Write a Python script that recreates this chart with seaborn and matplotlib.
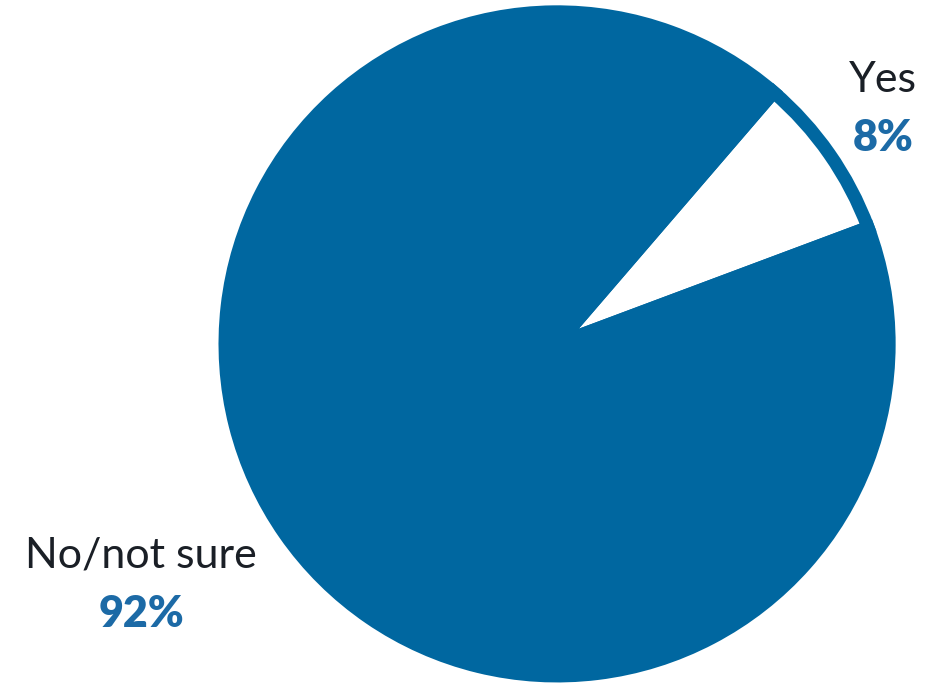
import matplotlib
matplotlib.use("Agg")
import matplotlib.pyplot as plt
import seaborn as sns

sns.set_theme(style="white")
plt.rcParams["font.family"] = ["Lato", "DejaVu Sans"]

categories = ["Yes", "No/not sure"]
shares = [8, 92]
pct_labels = ["8%", "92%"]

blue = "#0067A0"
label_blue = "#1C6AA6"
dark = "#1A1F26"

fig = plt.figure(figsize=(9.30, 6.83), dpi=100)
ax = fig.add_axes([0.2355, 0.0015, 0.727, 0.99])
wedges, _ = ax.pie(
    shares,
    colors=["white", blue],
    startangle=20.5,
    counterclock=True,
    radius=0.982,
    wedgeprops=dict(edgecolor=blue, linewidth=9.5, joinstyle="miter"),
)
ax.set_xlim(-1, 1)
ax.set_ylim(-1, 1)
ax.set_aspect("equal")
ax.axis("off")

# category names and shares
fig.text(883 / 930, 1 - 80 / 683, categories[0], ha="center", va="center",
         fontsize=31, color=dark)
fig.text(883 / 930, 1 - 138 / 683, pct_labels[0], ha="center", va="center",
         fontsize=31, fontweight="heavy", color=label_blue)
fig.text(141 / 930, 1 - 556 / 683, categories[1], ha="center", va="center",
         fontsize=31, color=dark)
fig.text(141 / 930, 1 - 614 / 683, pct_labels[1], ha="center", va="center",
         fontsize=31, fontweight="heavy", color=label_blue)

fig.savefig("out.png", dpi=100)
